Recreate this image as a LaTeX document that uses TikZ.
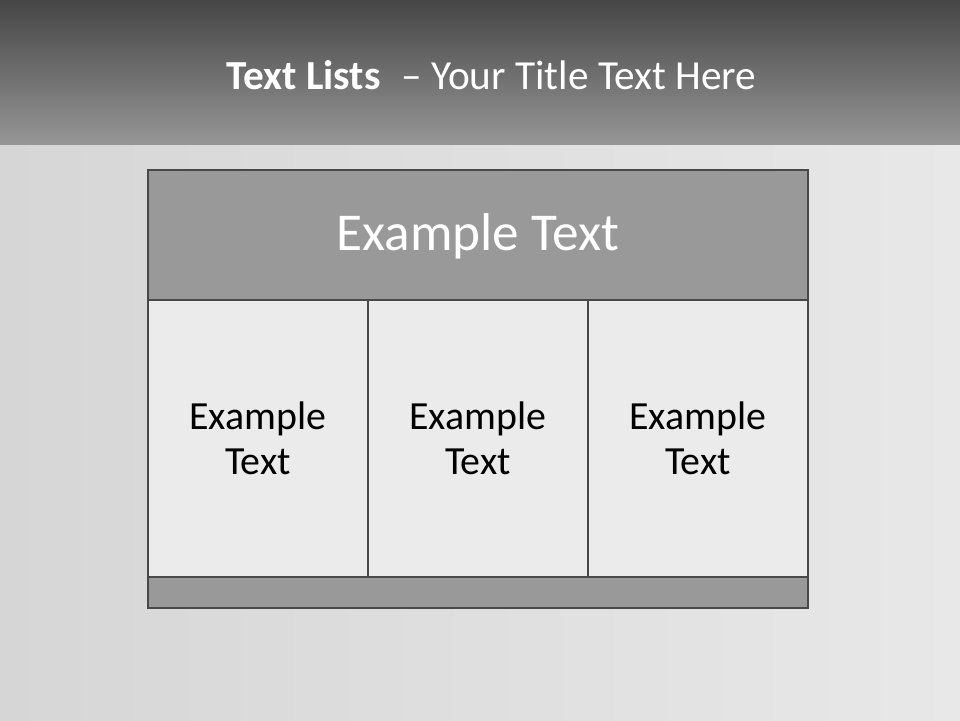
\documentclass[tikz,border=0pt]{standalone}
\usepackage{fontspec}
\setmainfont{Carlito}
\usetikzlibrary{positioning}
\definecolor{bgl}{RGB}{214,214,214}
\definecolor{bgr}{RGB}{232,232,232}
\definecolor{tbtop}{RGB}{70,70,70}
\definecolor{tbbot}{RGB}{150,150,150}
\definecolor{hdr}{RGB}{153,153,153}
\definecolor{cellc}{RGB}{235,235,235}
\definecolor{edge}{RGB}{72,72,72}

\begin{document}
\begin{tikzpicture}[
    cell/.style={rectangle,draw=edge,fill=cellc,line width=1.6pt,minimum width=4.4cm,minimum height=5.54cm,align=center,font=\fontsize{22.7}{25.5}\selectfont,inner sep=0pt},
    bar/.style={rectangle,draw=edge,fill=hdr,line width=1.6pt,minimum width=13.2cm,inner sep=0pt},
]
% Background and title band
\useasboundingbox (0,0) rectangle (19.2,14.4);
\shade[left color=bgl,right color=bgr] (0,0) rectangle (19.2,11.5);
\shade[top color=tbtop,bottom color=tbbot] (0,11.5) rectangle (19.2,14.4);
\node[text=white,font=\fontsize{23.5}{28}\selectfont] (title) at (9.83,12.9) {\textbf{Text Lists}\enspace– Your Title Text Here};

% Header
\node[bar,minimum height=2.64cm,text=white,font=\fontsize{30.3}{36}\selectfont] (head) at (9.56,9.68) {Example Text};

% Columns
\node[cell] (c1) at (5.16,5.63) {Example\\Text};
\node[cell] (c2) at (9.56,5.63) {Example\\Text};
\node[cell] (c3) at (13.96,5.63) {Example\\Text};

% Footer bar
\node[bar,minimum height=0.62cm] (foot) at (9.56,2.55) {};
\end{tikzpicture}
\end{document}
